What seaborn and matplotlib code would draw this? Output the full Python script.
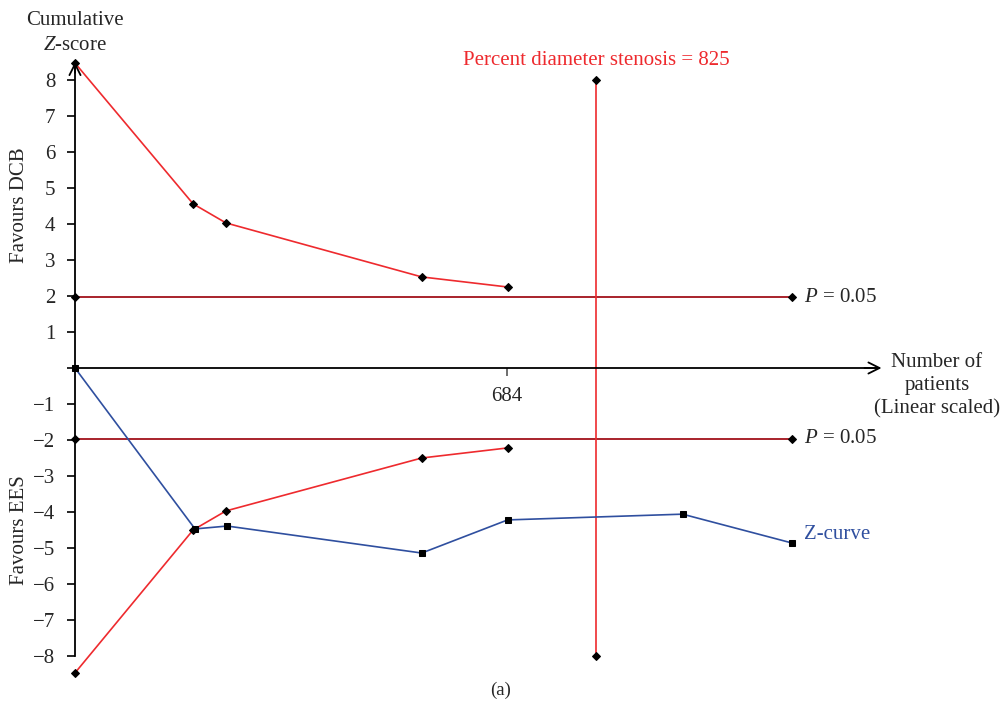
import matplotlib
matplotlib.use("Agg")
import matplotlib.pyplot as plt
import seaborn as sns
import pandas as pd

# ---- data ----
boundary_n = [0, 187, 239, 549, 685]
upper_boundary = [8.47, 4.56, 4.03, 2.53, 2.25]
lower_boundary = [-8.47, -4.50, -3.97, -2.50, -2.22]

zcurve_n = [0, 190, 241, 549, 685, 962, 1135]
zcurve = [0.0, -4.47, -4.39, -5.14, -4.22, -4.06, -4.86]

sig_n = [0, 1135]
sig_z = 1.96

ris_n = 825
ris_z = 8.0

xticks = [684]
yticks = list(range(-8, 9))

sns.set_theme(style="white")
plt.rcParams['font.family'] = ['Liberation Serif', 'DejaVu Serif']
plt.rcParams['mathtext.fontset'] = 'custom'
plt.rcParams['mathtext.it'] = 'Liberation Serif:italic'
plt.rcParams['mathtext.rm'] = 'Liberation Serif'

FS = 15

fig = plt.figure(figsize=(10.03, 7.14), dpi=100)
ax = fig.add_axes([0, 0, 1, 1])
ax.set_facecolor('white')

RED = '#ee2a2e'
DRED = '#a8232b'
BLUE = '#2f4f9f'

bdf_u = pd.DataFrame({'n': boundary_n, 'z': upper_boundary})
bdf_l = pd.DataFrame({'n': boundary_n, 'z': lower_boundary})
for d in (bdf_u, bdf_l):
    sns.lineplot(data=d, x='n', y='z', ax=ax, color=RED, lw=1.2, sort=False,
                 marker='D', markersize=4.5, markerfacecolor='black',
                 markeredgecolor='black', estimator=None)

for s in (1, -1):
    d = pd.DataFrame({'n': sig_n, 'z': [s * sig_z] * 2})
    sns.lineplot(data=d, x='n', y='z', ax=ax, color=DRED, lw=1.4, sort=False,
                 marker='D', markersize=4, markerfacecolor='black',
                 markeredgecolor='black', estimator=None)

d = pd.DataFrame({'n': [ris_n, ris_n], 'z': [ris_z, -ris_z]})
sns.lineplot(data=d, x='n', y='z', ax=ax, color=RED, lw=1.2, sort=False,
             marker='D', markersize=4, markerfacecolor='black',
             markeredgecolor='black', estimator=None, orient='y')

zdf = pd.DataFrame({'n': zcurve_n, 'z': zcurve})
sns.lineplot(data=zdf, x='n', y='z', ax=ax, color=BLUE, lw=1.2, sort=False,
             marker='s', markersize=5, markerfacecolor='black',
             markeredgecolor='black', estimator=None)

# limits mapping to pixel layout
ppx = 684 / 432.0
ax.set_xlim(-75 * ppx, (1003 - 75) * ppx)
ax.set_ylim(-(714 - 368) / 36.0, 368 / 36.0)

# axes
for sp in ('top', 'right'):
    ax.spines[sp].set_visible(False)
ax.spines['left'].set_position(('data', 0))
ax.spines['bottom'].set_position(('data', 0))
ax.spines['left'].set_bounds(-8, 8.45)
ax.spines['bottom'].set_bounds(0, 1272)
for sp in ('left', 'bottom'):
    ax.spines[sp].set_color('black')
    ax.spines[sp].set_linewidth(1.3)

ax.annotate('', xy=(1277, 0), xytext=(1250, 0),
            arrowprops=dict(arrowstyle='->', color='black', lw=1.3,
                            mutation_scale=20, shrinkA=0, shrinkB=0))
ax.annotate('', xy=(0, 8.5), xytext=(0, 8.2),
            arrowprops=dict(arrowstyle='->', color='black', lw=1.3,
                            mutation_scale=20, shrinkA=0, shrinkB=0))

ax.set_yticks(yticks)
ax.set_yticklabels(['' if v == 0 else ('\u2212%d' % -v if v < 0 else '%d' % v) for v in yticks])
ax.set_xticks(xticks)
ax.set_xticklabels([str(v) for v in xticks])
ax.tick_params(axis='y', direction='out', length=6, width=1.2, color='black',
               labelsize=FS, pad=8, left=True)
ax.tick_params(axis='x', direction='out', length=6, width=1.2, color='#555555',
               labelsize=FS, pad=8, bottom=True)
ax.set_xlabel('')
ax.set_ylabel('')

# texts
ax.text(0, 9.65, 'Cumulative', ha='center', va='center', fontsize=FS)
ax.text(0, 8.95, '$Z$-score', ha='center', va='center', fontsize=FS)
fig.text(20 / 1003, 1 - 205 / 714, 'Favours DCB', rotation=90, ha='center',
         va='center', fontsize=FS)
fig.text(20 / 1003, 1 - 530 / 714, 'Favours EES', rotation=90, ha='center',
         va='center', fontsize=FS)
ax.text(1135 + 12 * ppx, 1.96, '$P$ = 0.05', ha='left', va='center', fontsize=FS)
ax.text(1135 + 12 * ppx, -1.96, '$P$ = 0.05', ha='left', va='center', fontsize=FS)
ax.text(1135 + 12 * ppx, -4.62, 'Z-curve', ha='left', va='center', fontsize=FS,
        color=BLUE)
ax.text(825, 8.55, 'Percent diameter stenosis = 825', ha='center', va='center',
        fontsize=FS, color=RED)
fig.text(937 / 1003, 1 - 386 / 714, 'Number of\npatients\n(Linear scaled)',
         ha='center', va='center', fontsize=FS, linespacing=1.3)
fig.text(501 / 1003, 1 - 690 / 714, '(a)', ha='center', va='center', fontsize=13.5)

fig.savefig('out.png', dpi=100)
